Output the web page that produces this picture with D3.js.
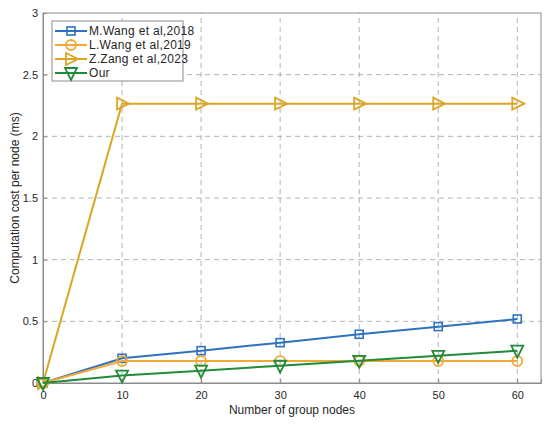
<!DOCTYPE html>
<html>
<head>
<meta charset="utf-8">
<script src="https://cdn.jsdelivr.net/npm/d3@7"></script>
<style>
  body { margin: 0; background: #fff; }
  text { font-family: "Liberation Sans", Arial, sans-serif; }
</style>
</head>
<body>
<div id="chart"></div>
<script>
// data
const nodes = [0, 10, 20, 30, 40, 50, 60];
const mWang = [0, 0.20, 0.262, 0.327, 0.395, 0.457, 0.519];
const lWang = [0, 0.178, 0.178, 0.178, 0.178, 0.178, 0.178];
const zZang = [0, 2.265, 2.265, 2.265, 2.265, 2.265, 2.265];
const ours = [0, 0.06, 0.10, 0.14, 0.18, 0.22, 0.262];
const xTicks = [0, 10, 20, 30, 40, 50, 60];
const yTicks = [0, 0.5, 1, 1.5, 2, 2.5, 3];

const series = [
  { name: "M.Wang et al,2018", values: mWang, color: "#2f72c0", marker: "square" },
  { name: "L.Wang et al,2019", values: lWang, color: "#f2a935", marker: "circle" },
  { name: "Z.Zang et al,2023", values: zZang, color: "#dba526", marker: "triangleRight" },
  { name: "Our", values: ours, color: "#208b3a", marker: "triangleDown" }
];

const width = 550, height = 424;
const margin = { top: 13, right: 9, bottom: 41, left: 43 };

const svg = d3.select("#chart").append("svg")
  .attr("width", width)
  .attr("height", height);

const x = d3.scaleLinear().domain([0, 63]).range([margin.left, width - margin.right]);
const y = d3.scaleLinear().domain([0, 3]).range([height - margin.bottom, margin.top]);

// grid
const grid = svg.append("g");
grid.selectAll(".gx").data(xTicks.filter(d => d > 0)).enter().append("line")
  .attr("x1", d => x(d)).attr("x2", d => x(d))
  .attr("y1", y(0)).attr("y2", y(3))
  .attr("stroke", "#a0a0a0").attr("stroke-width", 0.8)
  .attr("stroke-dasharray", "5,4");
grid.selectAll(".gy").data(yTicks.filter(d => d > 0 && d < 3)).enter().append("line")
  .attr("x1", x(0)).attr("x2", x(63))
  .attr("y1", d => y(d)).attr("y2", d => y(d))
  .attr("stroke", "#a0a0a0").attr("stroke-width", 0.8)
  .attr("stroke-dasharray", "5,4");

// frame
svg.append("rect")
  .attr("x", x(0)).attr("y", y(3))
  .attr("width", x(63) - x(0)).attr("height", y(0) - y(3))
  .attr("fill", "none").attr("stroke", "#8c8c8c").attr("stroke-width", 1);

// axes
const xAxis = svg.append("g")
  .attr("transform", `translate(0,${y(0)})`)
  .call(d3.axisBottom(x).tickValues(xTicks).tickSize(-4).tickPadding(8));
const yAxis = svg.append("g")
  .attr("transform", `translate(${x(0)},0)`)
  .call(d3.axisLeft(y).tickValues(yTicks).tickSize(-4).tickPadding(5).tickFormat(d3.format("~g")));
[xAxis, yAxis].forEach(a => {
  a.select(".domain").attr("stroke", "#8c8c8c");
  a.selectAll(".tick line").attr("stroke", "#8c8c8c");
  a.selectAll(".tick text").attr("fill", "#262626").attr("font-size", 11)
    .style("font-family", "'Liberation Sans', Arial, sans-serif");
});

// axis labels
svg.append("text")
  .attr("x", (x(0) + x(63)) / 2).attr("y", 414)
  .attr("text-anchor", "middle").attr("font-size", 12).attr("fill", "#262626")
  .text("Number of group nodes");
svg.append("text")
  .attr("transform", `translate(19,${(y(0) + y(3)) / 2}) rotate(-90)`)
  .attr("text-anchor", "middle").attr("font-size", 12).attr("fill", "#262626")
  .text("Computation cost per node (ms)");

function drawMarker(g, type, cx, cy, color) {
  if (type === "square") {
    g.append("rect").attr("x", cx - 4).attr("y", cy - 4).attr("width", 8).attr("height", 8)
      .attr("fill", "none").attr("stroke", color).attr("stroke-width", 1.6);
  } else if (type === "circle") {
    g.append("circle").attr("cx", cx).attr("cy", cy).attr("r", 5)
      .attr("fill", "none").attr("stroke", color).attr("stroke-width", 1.8);
  } else if (type === "triangleRight") {
    g.append("path")
      .attr("d", `M${cx - 5},${cy - 6}L${cx + 7},${cy}L${cx - 5},${cy + 6}Z`)
      .attr("fill", "none").attr("stroke", color).attr("stroke-width", 1.8);
  } else {
    g.append("path")
      .attr("d", `M${cx - 6},${cy - 5}L${cx + 6},${cy - 5}L${cx},${cy + 7}Z`)
      .attr("fill", "none").attr("stroke", color).attr("stroke-width", 1.8);
  }
}

const line = d3.line().x((d, i) => x(nodes[i])).y(d => y(d));

series.forEach(s => {
  const g = svg.append("g");
  g.append("path").datum(s.values)
    .attr("d", line)
    .attr("fill", "none").attr("stroke", s.color).attr("stroke-width", 2);
  s.values.forEach((v, i) => drawMarker(g, s.marker, x(nodes[i]), y(v), s.color));
});

// legend
const legend = svg.append("g");
legend.append("rect")
  .attr("x", 52).attr("y", 21).attr("width", 131).attr("height", 60)
  .attr("fill", "#fff").attr("stroke", "#8c8c8c").attr("stroke-width", 1);
series.forEach((s, i) => {
  const ly = 31 + i * 14;
  legend.append("line")
    .attr("x1", 55).attr("x2", 87).attr("y1", ly).attr("y2", ly)
    .attr("stroke", s.color).attr("stroke-width", 2);
  drawMarker(legend, s.marker, 71, ly, s.color);
  legend.append("text")
    .attr("x", 89).attr("y", ly + 4)
    .attr("font-size", 12).attr("letter-spacing", 0.3).attr("fill", "#262626")
    .text(s.name);
});
</script>
</body>
</html>
